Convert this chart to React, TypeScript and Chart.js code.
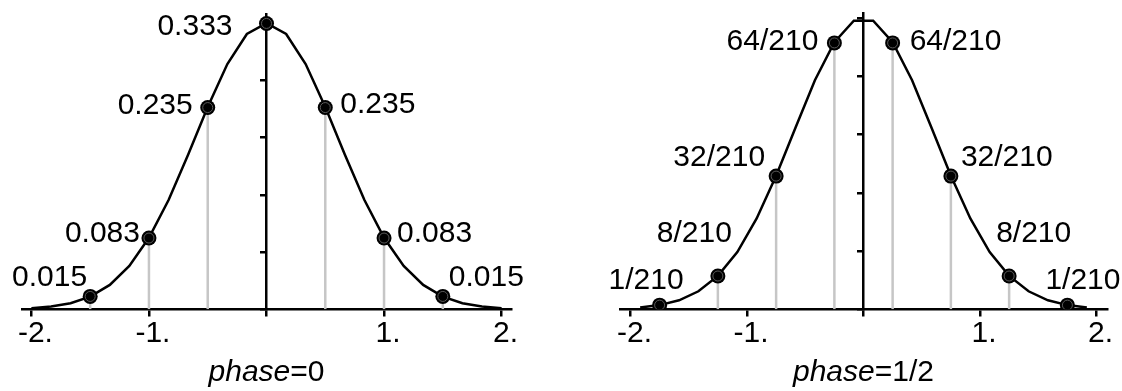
import React, { useEffect, useRef } from 'react';
import { Chart, registerables } from 'chart.js';

Chart.register(...registerables);

const FONT = '"Liberation Sans", Arial, Helvetica, sans-serif';

// Shared axis ticks
const xTickValues = [-2, -1, 0, 1, 2];
const xTickLabels = ['-2.', '-1.', '', '1.', '2.'];
const yTickStep = 1 / 15;

// phase = 0 : smooth density and its samples at spacing 1/2
const curve0X = [
  -2, -1.833, -1.667, -1.5, -1.333, -1.167, -1, -0.833, -0.667, -0.5, -0.333, -0.167, 0,
  0.167, 0.333, 0.5, 0.667, 0.833, 1, 1.167, 1.333, 1.5, 1.667, 1.833, 2,
];
const curve0Y = [
  0.0013, 0.0032, 0.0071, 0.0147, 0.0284, 0.0505, 0.0833, 0.1273, 0.18, 0.2357, 0.2857, 0.3207, 0.3333,
  0.3207, 0.2857, 0.2357, 0.18, 0.1273, 0.0833, 0.0505, 0.0284, 0.0147, 0.0071, 0.0032, 0.0013,
];
const points0X = [-1.5, -1, -0.5, 0, 0.5, 1, 1.5];
const points0Y = [0.015, 0.083, 0.235, 0.333, 0.235, 0.083, 0.015];
const points0Labels = ['0.015', '0.083', '0.235', '0.333', '0.235', '0.083', '0.015'];

// phase = 1/2 : same density, samples shifted by a quarter
const curveHalfX = [
  -1.917, -1.75, -1.583, -1.417, -1.25, -1.083, -0.917, -0.75, -0.583, -0.417, -0.25, -0.083,
  0.083, 0.25, 0.417, 0.583, 0.75, 0.917, 1.083, 1.25, 1.417, 1.583, 1.75, 1.917,
];
const curveHalfY = [
  0.002, 0.0048, 0.0103, 0.0206, 0.0382, 0.0655, 0.104, 0.1528, 0.208, 0.262, 0.3057, 0.3301,
  0.3301, 0.3057, 0.262, 0.208, 0.1528, 0.104, 0.0655, 0.0382, 0.0206, 0.0103, 0.0048, 0.002,
];
const pointsHalfX = [-1.75, -1.25, -0.75, -0.25, 0.25, 0.75, 1.25, 1.75];
const pointsHalfCounts = [1, 8, 32, 64, 64, 32, 8, 1];
const pointsHalfTotal = 210;
const pointsHalfY = pointsHalfCounts.map((c) => c / pointsHalfTotal);
const pointsHalfLabels = pointsHalfCounts.map((c) => `${c}/${pointsHalfTotal}`);

type Place = { align: CanvasTextAlign; dx: number; dy: number };

// where each value label sits relative to its dot
const labelPlace0: Place[] = [
  { align: 'right', dx: -3, dy: -19 },
  { align: 'right', dx: -9, dy: -4 },
  { align: 'right', dx: -15, dy: -2 },
  { align: 'right', dx: -34, dy: 3 },
  { align: 'left', dx: 15, dy: -3 },
  { align: 'left', dx: 13, dy: -4 },
  { align: 'left', dx: 6, dy: -19 },
];
const labelPlaceHalf: Place[] = [
  { align: 'right', dx: 24, dy: -24 },
  { align: 'right', dx: 14, dy: -42 },
  { align: 'right', dx: -11, dy: -18 },
  { align: 'right', dx: -16, dy: -1 },
  { align: 'left', dx: 17, dy: -1 },
  { align: 'left', dx: 10, dy: -18 },
  { align: 'left', dx: -13, dy: -42 },
  { align: 'left', dx: -22, dy: -24 },
];

type PanelProps = {
  left: number;
  width: number;
  height: number;
  padding: { left: number; right: number; top: number; bottom: number };
  xRange: number;
  yMax: number;
  curveX: number[];
  curveY: number[];
  ptsX: number[];
  ptsY: number[];
  labels: string[];
  places: Place[];
  titleValue: string;
  titleCenter: number;
};

function PhasePanel(p: PanelProps) {
  const ref = useRef<HTMLCanvasElement>(null);

  useEffect(() => {
    if (!ref.current) return;
    const pts = p.ptsX.map((x, i) => ({ x, y: p.ptsY[i] }));

    const stems = pts
      .filter((pt) => pt.x !== 0)
      .map((pt) => ({
        data: [
          { x: pt.x, y: 0 },
          { x: pt.x, y: pt.y },
        ],
        showLine: true,
        borderColor: '#c6c6c6',
        borderWidth: 2.5,
        pointRadius: 0,
        order: 4,
      }));

    const labelPlugin = {
      id: 'valueLabels',
      afterDatasetsDraw(chart: Chart) {
        const { ctx, scales } = chart;
        ctx.save();
        ctx.font = `30px ${FONT}`;
        ctx.fillStyle = '#000';
        ctx.textBaseline = 'middle';
        p.ptsX.forEach((x, i) => {
          const px = scales.x.getPixelForValue(x);
          const py = scales.y.getPixelForValue(p.ptsY[i]);
          const pl = p.places[i];
          ctx.textAlign = pl.align;
          ctx.fillText(p.labels[i], px + pl.dx, py + pl.dy);
        });
        ctx.restore();
      },
    };

    const chart = new Chart(ref.current, {
      type: 'scatter',
      data: {
        datasets: [
          {
            data: pts,
            showLine: false,
            pointRadius: 5,
            pointBackgroundColor: '#000',
            pointBorderColor: '#5a5a5a',
            pointBorderWidth: 1,
            order: 0,
          },
          {
            data: pts,
            showLine: false,
            pointRadius: 7.5,
            pointBackgroundColor: '#000',
            pointBorderWidth: 0,
            order: 1,
          },
          {
            data: p.curveX.map((x, i) => ({ x, y: p.curveY[i] })),
            showLine: true,
            borderColor: '#000',
            borderWidth: 2.5,
            pointRadius: 0,
            tension: 0,
            order: 2,
          },
          ...stems,
        ] as any,
      },
      options: {
        animation: false,
        responsive: false,
        events: [],
        layout: { padding: p.padding },
        plugins: { legend: { display: false }, tooltip: { enabled: false }, title: { display: false } },
        scales: {
          x: {
            type: 'linear',
            min: -p.xRange,
            max: p.xRange,
            position: { y: 0 } as any,
            afterBuildTicks: (s: any) => {
              s.ticks = xTickValues.map((v) => ({ value: v }));
            },
            ticks: {
              callback: (v: any) => xTickLabels[xTickValues.indexOf(Number(v))] ?? '',
              font: { family: FONT, size: 30 },
              color: '#000',
              padding: 0,
              labelOffset: 4,
              autoSkip: false,
              maxRotation: 0,
            },
            grid: { drawOnChartArea: false, drawTicks: true, tickLength: 6, color: '#000', lineWidth: 2.5 },
            border: { display: true, color: '#000', width: 2.5 },
          },
          y: {
            type: 'linear',
            min: 0,
            max: p.yMax,
            position: { x: 0 } as any,
            ticks: { display: false, stepSize: yTickStep, includeBounds: false },
            grid: { drawOnChartArea: false, drawTicks: true, tickLength: 5, color: '#000', lineWidth: 2.5 },
            border: { display: true, color: '#000', width: 2.5 },
          },
        },
      },
      plugins: [labelPlugin],
    });
    return () => chart.destroy();
  }, []);

  return (
    <>
      <canvas
        ref={ref}
        width={p.width}
        height={p.height}
        style={{ position: 'absolute', left: p.left, top: 0, width: p.width, height: p.height }}
      />
      <div
        style={{
          position: 'absolute',
          left: p.titleCenter - 120,
          width: 240,
          top: 356,
          textAlign: 'center',
          font: `30px ${FONT}`,
          lineHeight: '30px',
          color: '#000',
          whiteSpace: 'nowrap',
        }}
      >
        <i>phase</i>={p.titleValue}
      </div>
    </>
  );
}

export default function App() {
  return (
    <div
      style={{
        position: 'absolute',
        left: 0,
        top: 0,
        width: 1122,
        height: 391,
        background: '#fff',
        overflow: 'hidden',
      }}
    >
      <PhasePanel
        left={0}
        width={561}
        height={391}
        padding={{ left: 22, right: 50, top: 14, bottom: 81.7 }}
        xRange={2.08}
        yMax={0.344}
        curveX={curve0X}
        curveY={curve0Y}
        ptsX={points0X}
        ptsY={points0Y}
        labels={points0Labels}
        places={labelPlace0}
        titleValue="0"
        titleCenter={266.5}
      />
      <PhasePanel
        left={561}
        width={561}
        height={391}
        padding={{ left: 59, right: 15, top: 13, bottom: 81.7 }}
        xRange={2.09}
        yMax={0.339}
        curveX={curveHalfX}
        curveY={curveHalfY}
        ptsX={pointsHalfX}
        ptsY={pointsHalfY}
        labels={pointsHalfLabels}
        places={labelPlaceHalf}
        titleValue="1/2"
        titleCenter={863.5}
      />
    </div>
  );
}
